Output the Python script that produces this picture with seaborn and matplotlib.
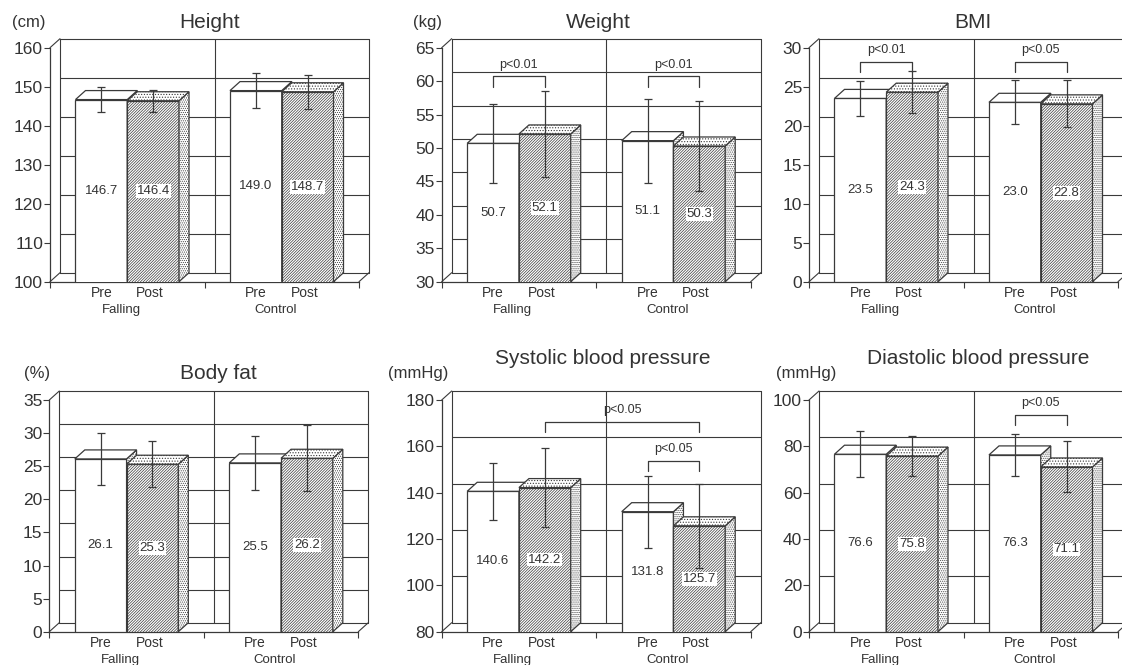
import numpy as np
import pandas as pd
import seaborn as sns
import matplotlib.pyplot as plt
from matplotlib.patches import Polygon

# data
groups = ["Falling", "Control"]
phases = ["Pre", "Post"]

titles = ["Height", "Weight", "BMI", "Body fat",
          "Systolic blood pressure", "Diastolic blood pressure"]
units = ["(cm)", "(kg)", "", "(%)", "(mmHg)", "(mmHg)"]
y_limits = [(100, 160), (30, 65), (0, 30), (0, 35), (80, 180), (0, 100)]
y_steps = [10, 5, 5, 5, 20, 20]

# order: Falling Pre, Falling Post, Control Pre, Control Post
height_mean = [146.7, 146.4, 149.0, 148.7]
height_sd = [3.2, 2.8, 4.5, 4.3]
weight_mean = [50.7, 52.1, 51.1, 50.3]
weight_sd = [5.9, 6.4, 6.3, 6.8]
bmi_mean = [23.5, 24.3, 23.0, 22.8]
bmi_sd = [2.2, 2.7, 2.8, 3.0]
fat_mean = [26.1, 25.3, 25.5, 26.2]
fat_sd = [3.9, 3.5, 4.1, 5.0]
sbp_mean = [140.6, 142.2, 131.8, 125.7]
sbp_sd = [12.2, 16.9, 15.5, 18.2]
dbp_mean = [76.6, 75.8, 76.3, 71.1]
dbp_sd = [9.9, 8.6, 9.0, 11.0]

means = [height_mean, weight_mean, bmi_mean, fat_mean, sbp_mean, dbp_mean]
sds = [height_sd, weight_sd, bmi_sd, fat_sd, sbp_sd, dbp_sd]

# significance brackets: (bar a, bar b, bracket level, label)
brackets = [
    [],
    [(0, 1, 60.7, "p<0.01"), (2, 3, 60.7, "p<0.01")],
    [(0, 1, 28.2, "p<0.01"), (2, 3, 28.2, "p<0.05")],
    [],
    [(1, 3, 170.6, "p<0.05"), (2, 3, 153.8, "p<0.05")],
    [(2, 3, 93.5, "p<0.05")],
]

sns.set_theme(style="white")
plt.rcParams["font.family"] = ["Liberation Sans", "DejaVu Sans"]
plt.rcParams["hatch.linewidth"] = 0.5

txt = "#333333"
ln = "#3a3a3a"

W, H = 1122, 665
fig = plt.figure(figsize=(W / 100, H / 100), dpi=100)

# panel layout in pixels: left, top of y axis, axis height
panels = [(50, 47.7, 234), (441.7, 47.7, 234), (809, 47.7, 234),
          (49.3, 400, 231.7), (441.7, 400, 231.7), (809, 400, 231.7)]
title_pos = [(210, 22.7), (598, 22.7), (973, 22.7),
             (218, 373), (603, 358), (978, 358)]
unit_pos = [(12, 22.7), (413, 22.7), (0, 0), (24, 373), (388, 373), (776, 373)]
axw = 309
depth_px = (10, 9)

for k in range(6):
    left, top, ph = panels[k]
    ax = fig.add_axes([left / W, 1 - (top + ph) / H, axw / W, ph / H])
    df = pd.DataFrame({"group": np.repeat(groups, 2),
                       "phase": phases * 2,
                       "value": means[k]})
    sns.barplot(data=df, x="group", y="value", hue="phase",
                order=groups, hue_order=phases, width=0.67,
                errorbar=None, legend=False, ax=ax)
    ymin, ymax = y_limits[k]
    ax.set_xlim(-0.5, 1.5)
    ax.set_ylim(ymin, ymax)
    ticks = np.arange(ymin, ymax + 0.1, y_steps[k])
    ax.set_yticks(ticks)
    ax.set_xticks([-0.5, 0.5, 1.5])
    ax.set_xticklabels([])
    ax.set_xlabel("")
    ax.set_ylabel("")
    ax.patch.set_alpha(0)

    dx = depth_px[0] * 2 / axw
    dy = depth_px[1] * (ymax - ymin) / ph

    # back wall
    for v in ticks:
        ax.plot([-0.5 + dx, 1.5 + dx], [v + dy, v + dy], color=ln, lw=0.8,
                clip_on=False, zorder=1)
    for xv in [-0.5, 0.5, 1.5]:
        ax.plot([xv + dx, xv + dx], [ymin + dy, ymax + dy], color=ln, lw=0.8,
                clip_on=False, zorder=1)
    for xv, yv in [(-0.5, ymax), (-0.5, ymin), (1.5, ymin)]:
        ax.plot([xv, xv + dx], [yv, yv + dy], color=ln, lw=0.8,
                clip_on=False, zorder=1)

    bars = sorted(ax.patches, key=lambda p: p.get_x())
    centers = []
    for i, p in enumerate(bars):
        x0 = p.get_x()
        x1 = x0 + p.get_width()
        h = p.get_height()
        z = 3 + i * 0.1
        post = i % 2 == 1
        p.set_facecolor("white")
        p.set_edgecolor(ln)
        p.set_linewidth(0.9)
        p.set_zorder(z)
        if post:
            p.set_hatch("////////////")
        side = Polygon([(x1, ymin), (x1, h), (x1 + dx, h + dy), (x1 + dx, ymin + dy)],
                       facecolor="white", edgecolor=ln, lw=0.9, hatch="........",
                       clip_on=False, zorder=z + 0.03)
        topf = Polygon([(x0, h), (x1, h), (x1 + dx, h + dy), (x0 + dx, h + dy)],
                       facecolor="white", edgecolor=ln, lw=0.9,
                       hatch="......" if post else None,
                       clip_on=False, zorder=z + 0.05)
        ax.add_patch(side)
        ax.add_patch(topf)
        xc = (x0 + x1) / 2
        centers.append(xc)
        ax.text(xc, (ymin + h) / 2, f"{means[k][i]:.1f}", ha="center", va="center",
                fontsize=9.5, color=txt, zorder=6,
                bbox=dict(facecolor="white", edgecolor="none", pad=0.6) if post else None)
        ax.annotate(phases[i % 2], xy=(xc - 0.02 * (i % 2), 0),
                    xycoords=ax.get_xaxis_transform(),
                    xytext=(0, -8), textcoords="offset points",
                    ha="center", va="center", fontsize=10, color=txt)

    ax.errorbar(centers, means[k], yerr=sds[k], fmt="none", ecolor=ln,
                elinewidth=0.9, capsize=3, capthick=0.9, zorder=5)

    for gi, g in enumerate(groups):
        ax.annotate(g, xy=(gi - 0.04, 0), xycoords=ax.get_xaxis_transform(),
                    xytext=(0, -20.5), textcoords="offset points",
                    ha="center", va="center", fontsize=9.5, color=txt)

    # significance brackets
    span = ymax - ymin
    for a, b, lev, lab in brackets[k]:
        leg = span * 0.045
        ax.plot([centers[a], centers[a], centers[b], centers[b]],
                [lev - leg, lev, lev, lev - leg], color=ln, lw=0.9,
                clip_on=False, zorder=6)
        ax.text((centers[a] + centers[b]) / 2, lev + span * 0.025, lab,
                ha="center", va="bottom", fontsize=9, color=txt, zorder=6)

    sns.despine(ax=ax)
    for s in ["left", "bottom"]:
        ax.spines[s].set_color(ln)
        ax.spines[s].set_linewidth(0.9)
    ax.tick_params(axis="y", direction="out", length=4, width=0.8, color=ln,
                   labelsize=12.5, labelcolor=txt, pad=1, left=True)
    ax.tick_params(axis="x", direction="out", length=4, width=0.8, color=ln,
                   bottom=True)

    tx, ty = title_pos[k]
    fig.text(tx / W, 1 - ty / H, titles[k], ha="center", va="center",
             fontsize=15, color=txt)
    if units[k]:
        ux, uy = unit_pos[k]
        fig.text(ux / W, 1 - uy / H, units[k], ha="left", va="center",
                 fontsize=12, color=txt)

fig.savefig("out.png", dpi=100, facecolor="white")
